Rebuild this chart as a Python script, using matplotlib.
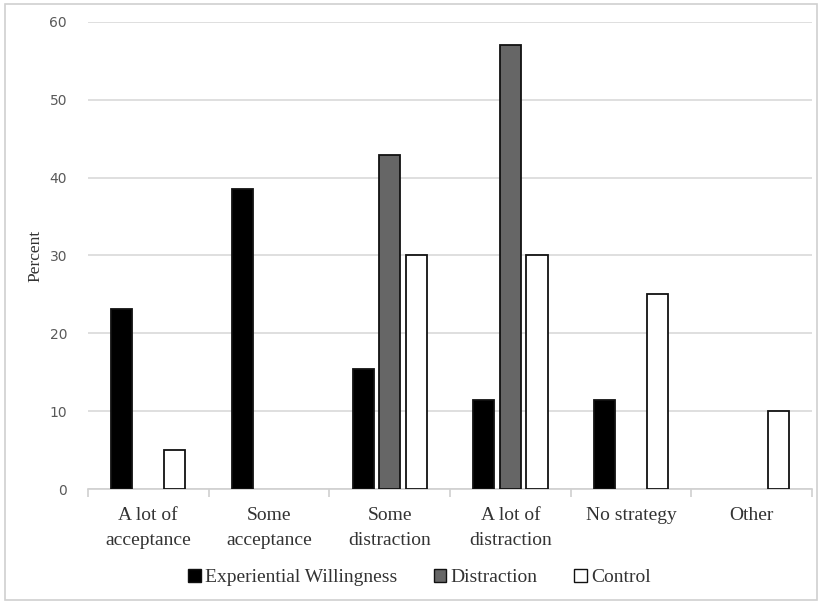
import matplotlib
matplotlib.use("Agg")
import matplotlib.pyplot as plt
import numpy as np
from matplotlib.patches import Rectangle

categories = ["A lot of\nacceptance", "Some\nacceptance", "Some\ndistraction",
              "A lot of\ndistraction", "No strategy", "Other"]
experiential = [23.1, 38.5, 15.4, 11.5, 11.5, 0]
distraction = [0, 0, 42.9, 57.1, 0, 0]
control = [5, 0, 30, 30, 25, 10]
series_names = ["Experiential Willingness", "Distraction", "Control"]
yticks = [0, 10, 20, 30, 40, 50, 60]

fig = plt.figure(figsize=(8.22, 6.05), dpi=100)
ax = fig.add_axes([0.107, 0.1917, 0.881, 0.772])

x = np.arange(len(categories))
w = 0.175
off = 0.22
colors = ["#000000", "#666666", "#ffffff"]
for vals, dx, c, name in zip([experiential, distraction, control], [-off, 0, off], colors, series_names):
    lws = [1.3 if v > 0 else 0 for v in vals]
    ax.bar(x + dx, vals, width=w, color=c, edgecolor="#111111", linewidth=lws, label=name, zorder=3)

ax.set_xlim(-0.5, len(categories) - 0.5)
ax.set_ylim(0, 60)
ax.set_yticks(yticks)
ax.yaxis.grid(True, color="#d9d9d9", linewidth=1.2, zorder=0)
ax.set_axisbelow(True)
for s in ["top", "right", "left"]:
    ax.spines[s].set_visible(False)
ax.spines["bottom"].set_color("#d0d0d0")
ax.spines["bottom"].set_linewidth(1.2)
ax.spines["bottom"].set_zorder(2)

ax.tick_params(axis="y", length=0, pad=15, labelsize=10, labelcolor="#595959")
for lab in ax.get_yticklabels():
    lab.set_family("DejaVu Sans")

ax.set_xticks(x)
ax.set_xticklabels(categories, fontsize=14, family="Liberation Serif", color="#333333", linespacing=1.6)
ax.tick_params(axis="x", which="major", length=0, pad=13)
ax.set_xticks(np.arange(-0.5, len(categories)), minor=True)
ax.tick_params(axis="x", which="minor", length=6, color="#d0d0d0", width=1.2, direction="out")

ax.set_ylabel("Percent", family="Liberation Serif", fontsize=12.5, color="#333333", labelpad=12)
ax.yaxis.set_label_coords(-0.062, 0.5)

leg = fig.legend(loc="center", bbox_to_anchor=(0.51, 0.045), ncol=3, frameon=False,
                 prop={"family": "Liberation Serif", "size": 14},
                 handlelength=0.65, handleheight=0.65, handletextpad=0.2, columnspacing=1.9)
for t in leg.get_texts():
    t.set_color("#333333")
for h in leg.legend_handles:
    h.set_linewidth(1.0)

fig.patches.append(Rectangle((0.006, 0.008), 0.988, 0.985, transform=fig.transFigure,
                             fill=False, edgecolor="#d0d0d0", linewidth=1.2))

fig.savefig("out.png", dpi=100)
